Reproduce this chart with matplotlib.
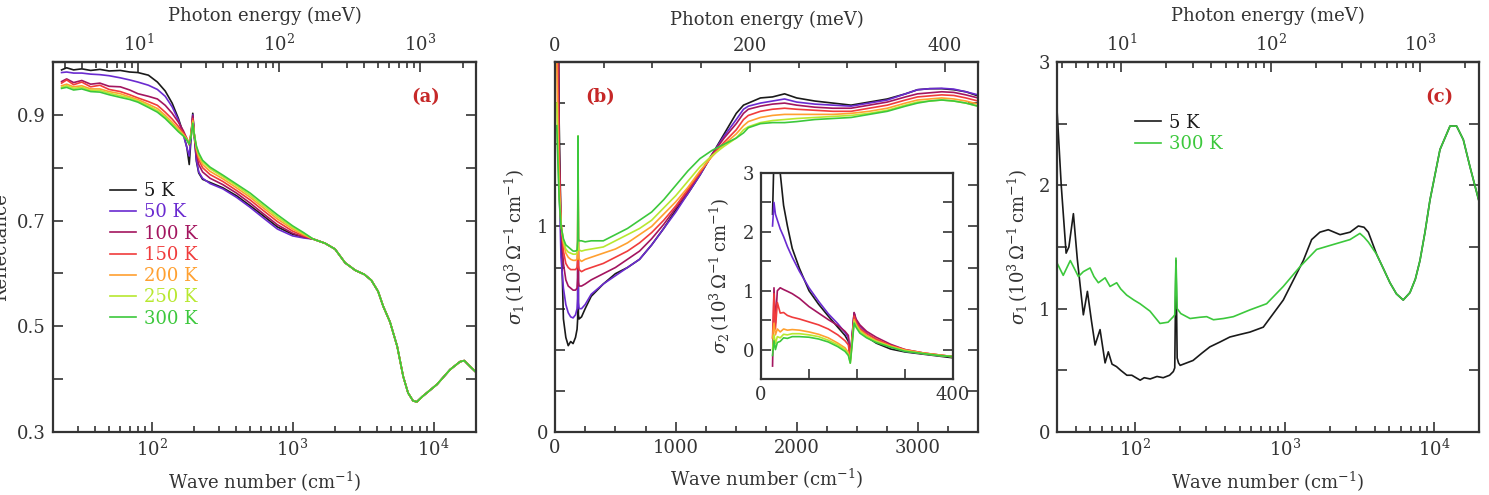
import numpy as np
import matplotlib
matplotlib.use('Agg')
import matplotlib.pyplot as plt
from matplotlib.ticker import FixedLocator, MultipleLocator, NullFormatter

# ---------------- data ----------------
temps = ['5 K', '50 K', '100 K', '150 K', '200 K', '250 K', '300 K']
colors = ['#1a1a1a', '#6a2bd0', '#a3155f', '#f03c3c', '#ffa030', '#b8e830', '#3cc83c']

# (a) reflectance, low-frequency part (temperature dependent)
a_x_low = [23, 25, 28, 32, 37, 43, 50, 60, 70, 80, 95, 110, 125, 140, 155, 168, 178, 185, 191,
           196, 201, 208, 216, 230, 260, 320, 400, 500, 600, 780, 1000, 1200]
R_5K = [0.985, 0.989, 0.985, 0.987, 0.984, 0.986, 0.983, 0.984, 0.981, 0.980, 0.975, 0.962, 0.945,
        0.922, 0.893, 0.865, 0.838, 0.806, 0.860, 0.903, 0.860, 0.812, 0.790, 0.778, 0.772, 0.762,
        0.747, 0.728, 0.712, 0.688, 0.674, 0.669]
R_50K = [0.980, 0.981, 0.979, 0.979, 0.977, 0.976, 0.974, 0.970, 0.966, 0.962, 0.956, 0.948, 0.935,
         0.915, 0.890, 0.862, 0.838, 0.822, 0.862, 0.900, 0.860, 0.815, 0.792, 0.780, 0.770, 0.760,
         0.744, 0.725, 0.708, 0.684, 0.671, 0.667]
R_100K = [0.963, 0.968, 0.961, 0.965, 0.958, 0.960, 0.954, 0.953, 0.947, 0.940, 0.935, 0.930, 0.918,
          0.903, 0.886, 0.870, 0.855, 0.843, 0.868, 0.898, 0.862, 0.826, 0.806, 0.792, 0.780, 0.768,
          0.752, 0.733, 0.716, 0.692, 0.676, 0.669]
R_150K = [0.960, 0.966, 0.957, 0.962, 0.953, 0.956, 0.948, 0.944, 0.938, 0.932, 0.925, 0.918, 0.905,
          0.892, 0.878, 0.866, 0.855, 0.846, 0.866, 0.893, 0.862, 0.832, 0.815, 0.800, 0.787, 0.774,
          0.757, 0.739, 0.722, 0.698, 0.680, 0.671]
R_200K = [0.955, 0.958, 0.953, 0.955, 0.949, 0.949, 0.944, 0.940, 0.934, 0.929, 0.920, 0.912, 0.899,
          0.886, 0.873, 0.863, 0.854, 0.846, 0.864, 0.889, 0.862, 0.836, 0.820, 0.806, 0.793, 0.779,
          0.762, 0.744, 0.727, 0.703, 0.684, 0.673]
R_250K = [0.952, 0.955, 0.950, 0.952, 0.946, 0.946, 0.941, 0.936, 0.932, 0.926, 0.917, 0.908, 0.896,
          0.883, 0.870, 0.861, 0.853, 0.845, 0.862, 0.886, 0.862, 0.839, 0.825, 0.811, 0.798, 0.783,
          0.766, 0.748, 0.731, 0.707, 0.687, 0.675]
R_300K = [0.950, 0.952, 0.947, 0.949, 0.944, 0.943, 0.938, 0.933, 0.929, 0.924, 0.914, 0.905, 0.893,
          0.880, 0.868, 0.860, 0.852, 0.845, 0.860, 0.884, 0.862, 0.841, 0.828, 0.814, 0.801, 0.786,
          0.769, 0.752, 0.735, 0.711, 0.690, 0.677]
# (a) common high-frequency part
refl_tail_x = [1400, 1700, 2000, 2360, 2780, 3230, 3620, 4040, 4390, 4910, 5520, 6090, 6590, 7150,
               7600, 8320, 10570, 13090, 15400, 16500, 18130, 20000]
refl_tail_y = [0.665, 0.657, 0.646, 0.620, 0.606, 0.598, 0.587, 0.566, 0.538, 0.508, 0.462, 0.405,
               0.374, 0.359, 0.357, 0.367, 0.390, 0.418, 0.433, 0.435, 0.424, 0.413]

# (b) sigma_1, linear scale
b_x = [15, 25, 35, 50, 70, 90, 110, 130, 150, 170, 183, 188, 191, 194, 200, 220, 250, 300, 400, 500,
       600, 700, 800, 900, 1000, 1100, 1200, 1300, 1400, 1500, 1560, 1600, 1700, 1800, 1900, 2000,
       2150, 2300, 2450, 2600, 2750, 2900, 3000, 3100, 3200, 3300, 3400, 3500]
S1_5K = [3.0, 2.4, 1.5, 1.0, 0.55, 0.46, 0.42, 0.44, 0.43, 0.46, 0.50, 0.55, 1.38, 0.57, 0.55, 0.56,
         0.60, 0.66, 0.72, 0.77, 0.80, 0.84, 0.91, 0.99, 1.08, 1.16, 1.25, 1.35, 1.45, 1.55, 1.59,
         1.60, 1.625, 1.63, 1.645, 1.625, 1.61, 1.60, 1.59, 1.605, 1.62, 1.645, 1.665, 1.67, 1.67,
         1.665, 1.655, 1.635]
S1_50K = [3.0, 1.8, 1.2, 0.85, 0.70, 0.62, 0.58, 0.56, 0.555, 0.57, 0.60, 0.65, 1.38, 0.63, 0.60,
          0.60, 0.62, 0.67, 0.72, 0.76, 0.80, 0.84, 0.91, 0.99, 1.07, 1.16, 1.25, 1.35, 1.44, 1.52,
          1.57, 1.585, 1.60, 1.61, 1.62, 1.605, 1.595, 1.59, 1.585, 1.60, 1.615, 1.645, 1.665, 1.67,
          1.672, 1.668, 1.655, 1.64]
S1_100K = [3.0, 2.2, 1.4, 1.0, 0.82, 0.74, 0.71, 0.70, 0.69, 0.69, 0.70, 0.75, 1.38, 0.73, 0.71,
           0.71, 0.72, 0.74, 0.77, 0.80, 0.84, 0.88, 0.94, 1.01, 1.09, 1.17, 1.26, 1.35, 1.43, 1.50,
           1.55, 1.57, 1.585, 1.595, 1.60, 1.59, 1.58, 1.575, 1.575, 1.59, 1.605, 1.63, 1.645, 1.65,
           1.655, 1.652, 1.64, 1.625]
S1_150K = [2.4, 1.7, 1.3, 1.02, 0.88, 0.82, 0.80, 0.79, 0.79, 0.79, 0.80, 0.84, 1.40, 0.81, 0.79,
           0.78, 0.79, 0.80, 0.82, 0.85, 0.88, 0.92, 0.97, 1.03, 1.10, 1.18, 1.26, 1.345, 1.41, 1.47,
           1.52, 1.54, 1.56, 1.57, 1.575, 1.57, 1.565, 1.56, 1.56, 1.575, 1.59, 1.615, 1.63, 1.635,
           1.64, 1.637, 1.625, 1.61]
S1_200K = [1.8, 1.45, 1.2, 1.02, 0.92, 0.87, 0.85, 0.84, 0.835, 0.835, 0.84, 0.88, 1.42, 0.86, 0.84,
           0.83, 0.84, 0.85, 0.87, 0.89, 0.92, 0.96, 1.00, 1.06, 1.12, 1.19, 1.27, 1.34, 1.40, 1.45,
           1.49, 1.51, 1.53, 1.54, 1.545, 1.545, 1.545, 1.545, 1.55, 1.56, 1.575, 1.60, 1.615, 1.62,
           1.625, 1.62, 1.61, 1.595]
S1_250K = [1.6, 1.35, 1.15, 1.01, 0.93, 0.89, 0.875, 0.87, 0.865, 0.865, 0.87, 0.92, 1.44, 0.90,
           0.885, 0.88, 0.885, 0.89, 0.90, 0.93, 0.96, 0.99, 1.03, 1.09, 1.15, 1.22, 1.29, 1.345,
           1.39, 1.43, 1.47, 1.485, 1.505, 1.515, 1.52, 1.525, 1.53, 1.535, 1.54, 1.55, 1.565, 1.59,
           1.605, 1.61, 1.615, 1.61, 1.60, 1.585]
S1_300K = [1.49, 1.3, 1.13, 1.0, 0.94, 0.91, 0.90, 0.89, 0.88, 0.88, 0.885, 0.93, 1.44, 0.94, 0.93,
           0.93, 0.925, 0.93, 0.93, 0.96, 0.99, 1.03, 1.07, 1.13, 1.20, 1.27, 1.33, 1.37, 1.40, 1.43,
           1.455, 1.48, 1.50, 1.505, 1.505, 1.51, 1.52, 1.525, 1.53, 1.545, 1.56, 1.585, 1.60, 1.61,
           1.615, 1.61, 1.60, 1.585]

# (b) inset: sigma_2
in_x = [24, 27, 30, 34, 40, 47, 55, 65, 80, 100, 120, 140, 160, 175, 182, 186, 190, 194, 198, 206,
        220, 240, 270, 300, 340, 370, 400]
S2_5K = [2.3, 3.3, 3.4, 3.3, 3.0, 2.45, 2.1, 1.72, 1.38, 1.0, 0.77, 0.57, 0.38, 0.24, 0.14, -0.15,
         0.2, 0.62, 0.47, 0.34, 0.22, 0.11, 0.01, -0.04, -0.08, -0.11, -0.14]
S2_50K = [2.1, 2.5, 2.3, 2.2, 2.05, 1.92, 1.75, 1.57, 1.33, 1.05, 0.82, 0.61, 0.44, 0.29, 0.20,
          -0.11, 0.25, 0.62, 0.50, 0.40, 0.28, 0.17, 0.05, -0.03, -0.07, -0.10, -0.12]
S2_100K = [-0.28, 1.05, 0.45, 1.0, 1.05, 1.02, 0.99, 0.95, 0.87, 0.73, 0.62, 0.51, 0.41, 0.31, 0.24,
           -0.12, 0.25, 0.63, 0.52, 0.42, 0.31, 0.21, 0.09, 0.0, -0.06, -0.09, -0.12]
S2_150K = [0.2, 0.95, 0.35, 0.8, 0.62, 0.63, 0.58, 0.55, 0.52, 0.47, 0.42, 0.35, 0.25, 0.15, 0.08,
           -0.17, 0.2, 0.57, 0.47, 0.36, 0.27, 0.18, 0.07, 0.0, -0.06, -0.09, -0.12]
S2_200K = [0.2, 0.45, 0.25, 0.35, 0.3, 0.35, 0.33, 0.34, 0.33, 0.30, 0.26, 0.20, 0.11, 0.03, -0.05,
           -0.20, 0.15, 0.51, 0.43, 0.33, 0.24, 0.15, 0.06, -0.01, -0.06, -0.09, -0.12]
S2_250K = [0.0, 0.25, 0.1, 0.22, 0.2, 0.26, 0.25, 0.27, 0.27, 0.25, 0.22, 0.16, 0.08, 0.0, -0.08,
           -0.23, 0.12, 0.48, 0.41, 0.31, 0.22, 0.14, 0.05, -0.02, -0.07, -0.10, -0.12]
S2_300K = [-0.1, 0.15, 0.0, 0.12, 0.14, 0.2, 0.19, 0.22, 0.22, 0.21, 0.18, 0.13, 0.05, -0.03, -0.10,
           -0.23, 0.10, 0.45, 0.38, 0.28, 0.20, 0.12, 0.04, -0.03, -0.07, -0.10, -0.12]

# (c) sigma_1, log scale, 5 K and 300 K
c_x_5K = [30, 32, 34.5, 36, 38.6, 41, 45, 47.9, 51, 53.9, 58.2, 62.9, 66.1, 70, 75, 80, 88, 95, 108,
          115, 126, 140, 154, 170, 180, 184, 187.5, 191, 195, 200, 244, 280, 316, 370, 430, 500, 586,
          720, 840, 980, 1143, 1334, 1517, 1722, 1960, 2350, 2741, 3115, 3400, 3633]
c_y_5K = [2.61, 2.0, 1.45, 1.5, 1.77, 1.4, 0.95, 1.14, 0.9, 0.705, 0.83, 0.56, 0.65, 0.55, 0.53,
          0.50, 0.46, 0.46, 0.42, 0.44, 0.43, 0.45, 0.44, 0.46, 0.49, 0.52, 1.39, 0.60, 0.56, 0.54,
          0.58, 0.64, 0.69, 0.73, 0.77, 0.79, 0.81, 0.85, 0.96, 1.07, 1.23, 1.39, 1.56, 1.62, 1.64,
          1.60, 1.62, 1.67, 1.66, 1.62]
c_x_300K = [30, 33, 36.8, 39, 41.7, 45, 49.9, 53, 56.7, 62.9, 67.9, 75.2, 80, 87.7, 98, 107.7, 125.6,
            146.5, 166, 180, 184, 187.5, 191, 202, 233, 270, 301, 334, 390, 454, 586, 758, 980,
            1267, 1637, 2115, 2741, 3190, 3400, 3633]
c_y_300K = [1.37, 1.27, 1.39, 1.33, 1.26, 1.30, 1.33, 1.26, 1.21, 1.25, 1.18, 1.21, 1.16, 1.11,
            1.07, 1.04, 0.98, 0.88, 0.89, 0.935, 0.95, 1.41, 1.0, 0.96, 0.92, 0.93, 0.935, 0.91,
            0.92, 0.935, 0.99, 1.04, 1.18, 1.34, 1.48, 1.52, 1.56, 1.61, 1.58, 1.54]
c_tail_x = [4130, 4600, 5070, 5600, 6220, 6900, 7500, 8050, 8700, 9390, 10960, 12790, 14160, 15700,
            17400, 20000]
c_tail_y = [1.44, 1.32, 1.21, 1.12, 1.07, 1.13, 1.24, 1.39, 1.62, 1.88, 2.29, 2.48, 2.48, 2.37,
            2.15, 1.87]

# ---------------- style ----------------
plt.rcParams['font.family'] = ['DejaVu Serif']
plt.rcParams['mathtext.fontset'] = 'dejavuserif'
plt.rcParams['font.size'] = 13
TXT = '#333333'
plt.rcParams['text.color'] = TXT
plt.rcParams['axes.labelcolor'] = TXT
plt.rcParams['xtick.color'] = TXT
plt.rcParams['ytick.color'] = TXT
plt.rcParams['axes.edgecolor'] = TXT
plt.rcParams['axes.linewidth'] = 1.6
LBL = '#c62828'
LW = 1.2

CM_PER_MEV = 8.06554


def cm2mev(x):
    return np.asarray(x, dtype=float) / CM_PER_MEV


def mev2cm(x):
    return np.asarray(x, dtype=float) * CM_PER_MEV


def style_ticks(ax, ylen_minor=7):
    ax.tick_params(which='both', direction='in', top=False, right=True, width=1.2, pad=5)
    ax.tick_params(which='major', length=7)
    ax.tick_params(axis='x', which='minor', length=4)
    ax.tick_params(axis='y', which='minor', length=ylen_minor)


def add_top(ax, log=False, major=None, minor=None):
    sec = ax.secondary_xaxis('top', functions=(cm2mev, mev2cm))
    if major is not None:
        sec.xaxis.set_major_locator(FixedLocator(major))
    if minor is not None:
        sec.xaxis.set_minor_locator(FixedLocator(minor))
    sec.tick_params(which='both', direction='in', width=1.2, pad=5)
    sec.tick_params(which='major', length=7)
    sec.tick_params(which='minor', length=4)
    sec.set_xlabel('Photon energy (meV)', labelpad=9)
    return sec


fig = plt.figure(figsize=(14.89, 4.95), dpi=100)
axa = fig.add_axes([0.0356, 0.1273, 0.2841, 0.7475])
axb = fig.add_axes([0.3727, 0.1273, 0.2841, 0.7475])
axc = fig.add_axes([0.7099, 0.1273, 0.2834, 0.7475])
axi = fig.add_axes([0.5111, 0.2343, 0.1289, 0.4162])

xlab = r'Wave number (cm$^{-1}$)'
ylab_s1 = r'$\sigma_1\,(10^3\,\Omega^{-1}\,\mathrm{cm}^{-1})$'

# ---- (a)
R_all = [R_5K, R_50K, R_100K, R_150K, R_200K, R_250K, R_300K]
for lab, col, R in zip(temps, colors, R_all):
    axa.plot(a_x_low + refl_tail_x, R + refl_tail_y, color=col, lw=LW, label=lab)
axa.set_xscale('log')
axa.set_xlim(20, 20000)
axa.set_ylim(0.3, 1.0)
axa.yaxis.set_major_locator(FixedLocator([0.3, 0.5, 0.7, 0.9]))
axa.yaxis.set_minor_locator(FixedLocator([0.4, 0.6, 0.8]))
style_ticks(axa)
axa.set_xlabel(xlab, labelpad=7)
axa.set_ylabel('Reflectance')
axa.yaxis.set_label_coords(-0.102, 0.5)
add_top(axa, log=True)
leg = axa.legend(loc='upper left', bbox_to_anchor=(0.135, 0.675), frameon=False, borderpad=0,
                 borderaxespad=0, handlelength=1.45, handletextpad=0.45, labelspacing=0.18,
                 fontsize=13)
for t, l in zip(leg.get_texts(), leg.get_lines()):
    t.set_color(l.get_color())
axa.text(0.88, 0.905, '(a)', transform=axa.transAxes, color=LBL, fontweight='bold',
         ha='center', va='center', fontsize=13)

# ---- (b)
S1_all = [S1_5K, S1_50K, S1_100K, S1_150K, S1_200K, S1_250K, S1_300K]
for lab, col, S in zip(temps, colors, S1_all):
    axb.plot(b_x, S, color=col, lw=LW)
axb.set_xlim(0, 3500)
axb.set_ylim(0, 1.8)
axb.xaxis.set_major_locator(FixedLocator([0, 1000, 2000, 3000]))
axb.xaxis.set_minor_locator(MultipleLocator(250))
axb.yaxis.set_major_locator(FixedLocator([0, 1]))
axb.yaxis.set_minor_locator(FixedLocator([0.2, 0.4, 0.6, 0.8, 1.2, 1.4, 1.6]))
style_ticks(axb)
axb.set_xlabel(xlab, labelpad=7)
axb.set_ylabel(ylab_s1)
axb.yaxis.set_label_coords(-0.066, 0.5)
add_top(axb, major=[0, 200, 400], minor=list(range(50, 450, 50)))
axb.text(0.106, 0.905, '(b)', transform=axb.transAxes, color=LBL, fontweight='bold',
         ha='center', va='center', fontsize=13)

# ---- inset
S2_all = [S2_5K, S2_50K, S2_100K, S2_150K, S2_200K, S2_250K, S2_300K]
for col, S in zip(colors, S2_all):
    axi.plot(in_x, S, color=col, lw=LW)
axi.set_xlim(0, 400)
axi.set_ylim(-0.5, 3)
axi.xaxis.set_major_locator(FixedLocator([0, 400]))
axi.xaxis.set_minor_locator(FixedLocator([100, 200, 300]))
axi.yaxis.set_major_locator(FixedLocator([0, 1, 2, 3]))
axi.yaxis.set_minor_locator(FixedLocator([-0.5, 0.5, 1.5, 2.5]))
axi.tick_params(which='both', direction='in', top=False, right=True, width=1.2, pad=5)
axi.tick_params(which='major', length=7)
axi.tick_params(which='minor', length=7)
axi.set_ylabel(r'$\sigma_2\,(10^3\,\Omega^{-1}\,\mathrm{cm}^{-1})$')
axi.yaxis.set_label_coords(-0.151, 0.5)
for s in axi.spines.values():
    s.set_linewidth(1.6)

# ---- (c)
axc.plot(c_x_5K + c_tail_x, c_y_5K + c_tail_y, color=colors[0], lw=LW, label='5 K')
axc.plot(c_x_300K + c_tail_x, c_y_300K + c_tail_y, color=colors[6], lw=LW, label='300 K')
axc.set_xscale('log')
axc.set_xlim(30, 20000)
axc.set_ylim(0, 3)
axc.yaxis.set_major_locator(FixedLocator([0, 1, 2, 3]))
axc.yaxis.set_minor_locator(FixedLocator([0.5, 1.5, 2.5]))
style_ticks(axc)
axc.set_xlabel(xlab, labelpad=7)
axc.set_ylabel(ylab_s1)
axc.yaxis.set_label_coords(-0.064, 0.5)
add_top(axc, log=True)
legc = axc.legend(loc='upper left', bbox_to_anchor=(0.185, 0.86), frameon=False, borderpad=0,
                  borderaxespad=0, handlelength=1.45, handletextpad=0.45, labelspacing=0.18,
                  fontsize=13)
for t, l in zip(legc.get_texts(), legc.get_lines()):
    t.set_color(l.get_color())
axc.text(0.907, 0.905, '(c)', transform=axc.transAxes, color=LBL, fontweight='bold',
         ha='center', va='center', fontsize=13)

fig.savefig('out.png', dpi=100)
